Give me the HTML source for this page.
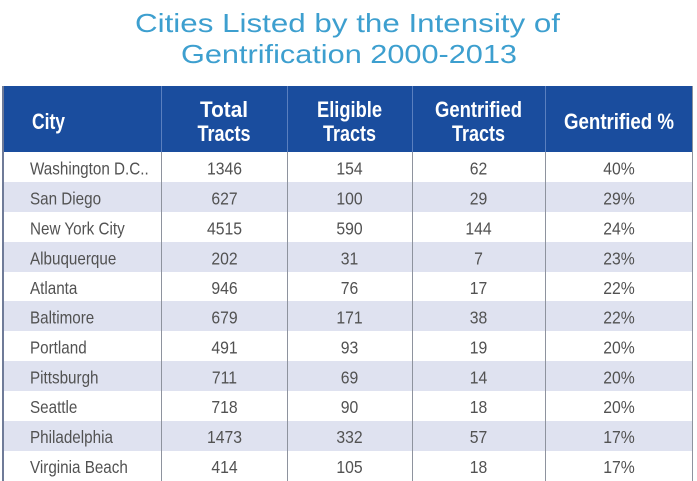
<!DOCTYPE html>
<html><head><meta charset="utf-8"><style>
html,body{margin:0;padding:0;background:#fff;}
svg{display:block;}
</style></head><body>
<svg width="697" height="481" viewBox="0 0 697 481" xmlns="http://www.w3.org/2000/svg" font-family="'Liberation Sans', sans-serif">
<rect width="697" height="481" fill="#fff"/>
<text x="347.5" y="32" font-size="26" fill="#3d9fcf" text-anchor="middle" textLength="425" lengthAdjust="spacingAndGlyphs">Cities Listed by the Intensity of</text>
<text x="349" y="63" font-size="26" fill="#3d9fcf" text-anchor="middle" textLength="336" lengthAdjust="spacingAndGlyphs">Gentrification 2000-2013</text>

<g>
<rect x="2" y="152" width="691" height="30" fill="#ffffff"/>
<rect x="2" y="182" width="691" height="30" fill="#dfe2f0"/>
<rect x="2" y="212" width="691" height="30" fill="#ffffff"/>
<rect x="2" y="242" width="691" height="30" fill="#dfe2f0"/>
<rect x="2" y="272" width="691" height="30" fill="#ffffff"/>
<rect x="2" y="301" width="691" height="30" fill="#dfe2f0"/>
<rect x="2" y="331" width="691" height="30" fill="#ffffff"/>
<rect x="2" y="361" width="691" height="30" fill="#dfe2f0"/>
<rect x="2" y="391" width="691" height="30" fill="#ffffff"/>
<rect x="2" y="421" width="691" height="30" fill="#dfe2f0"/>
<rect x="2" y="451" width="691" height="30" fill="#ffffff"/>
</g>

<rect x="2" y="86" width="691" height="66" fill="#1a4d9e"/>
<g stroke="#5a7fbf" stroke-width="1">
<line x1="161.5" y1="86" x2="161.5" y2="152"/>
<line x1="287.5" y1="86" x2="287.5" y2="152"/>
<line x1="412.5" y1="86" x2="412.5" y2="152"/>
<line x1="545.5" y1="86" x2="545.5" y2="152"/>
</g>
<g stroke="#8e939e" stroke-width="1">
<line x1="161.5" y1="152" x2="161.5" y2="481"/>
<line x1="287.5" y1="152" x2="287.5" y2="481"/>
<line x1="412.5" y1="152" x2="412.5" y2="481"/>
<line x1="545.5" y1="152" x2="545.5" y2="481"/>
</g>
<line x1="3" y1="86" x2="3" y2="481" stroke="#6f7b98" stroke-width="2"/>
<line x1="692.5" y1="86" x2="692.5" y2="481" stroke="#8e939e" stroke-width="1"/>

<g fill="#ffffff" font-size="22" font-weight="bold">
<text x="32" y="129" textLength="33" lengthAdjust="spacingAndGlyphs">City</text>
<text x="224" y="117" text-anchor="middle" textLength="48" lengthAdjust="spacingAndGlyphs">Total</text>
<text x="224" y="141" text-anchor="middle" textLength="53" lengthAdjust="spacingAndGlyphs">Tracts</text>
<text x="349.5" y="117" text-anchor="middle" textLength="65" lengthAdjust="spacingAndGlyphs">Eligible</text>
<text x="349.5" y="141" text-anchor="middle" textLength="53" lengthAdjust="spacingAndGlyphs">Tracts</text>
<text x="478.5" y="117" text-anchor="middle" textLength="87" lengthAdjust="spacingAndGlyphs">Gentrified</text>
<text x="478.5" y="141" text-anchor="middle" textLength="53" lengthAdjust="spacingAndGlyphs">Tracts</text>
<text x="619" y="129" text-anchor="middle" textLength="110" lengthAdjust="spacingAndGlyphs">Gentrified %</text>
</g>

<g fill="#525252" font-size="17.5" transform="scale(0.87,1)">
<text x="34.5" y="174.5">Washington D.C..</text>
<text x="34.5" y="204.5">San Diego</text>
<text x="34.5" y="234.5">New York City</text>
<text x="34.5" y="264.5">Albuquerque</text>
<text x="34.5" y="294">Atlanta</text>
<text x="34.5" y="323.5">Baltimore</text>
<text x="34.5" y="353.5">Portland</text>
<text x="34.5" y="383.5">Pittsburgh</text>
<text x="34.5" y="413">Seattle</text>
<text x="34.5" y="443">Philadelphia</text>
<text x="34.5" y="473">Virginia Beach</text>
</g>

<g fill="#525252" font-size="17.5" text-anchor="middle" transform="scale(0.9,1)">
<g>
<text x="249.4" y="174.5">1346</text>
<text x="249.4" y="204.5">627</text>
<text x="249.4" y="234.5">4515</text>
<text x="249.4" y="264.5">202</text>
<text x="249.4" y="294">946</text>
<text x="249.4" y="323.5">679</text>
<text x="249.4" y="353.5">491</text>
<text x="249.4" y="383.5">711</text>
<text x="249.4" y="413">718</text>
<text x="249.4" y="443">1473</text>
<text x="249.4" y="473">414</text>
</g>
<g>
<text x="388.3" y="174.5">154</text>
<text x="388.3" y="204.5">100</text>
<text x="388.3" y="234.5">590</text>
<text x="388.3" y="264.5">31</text>
<text x="388.3" y="294">76</text>
<text x="388.3" y="323.5">171</text>
<text x="388.3" y="353.5">93</text>
<text x="388.3" y="383.5">69</text>
<text x="388.3" y="413">90</text>
<text x="388.3" y="443">332</text>
<text x="388.3" y="473">105</text>
</g>
<g>
<text x="531.7" y="174.5">62</text>
<text x="531.7" y="204.5">29</text>
<text x="531.7" y="234.5">144</text>
<text x="531.7" y="264.5">7</text>
<text x="531.7" y="294">17</text>
<text x="531.7" y="323.5">38</text>
<text x="531.7" y="353.5">19</text>
<text x="531.7" y="383.5">14</text>
<text x="531.7" y="413">18</text>
<text x="531.7" y="443">57</text>
<text x="531.7" y="473">18</text>
</g>
<g>
<text x="687.8" y="174.5">40%</text>
<text x="687.8" y="204.5">29%</text>
<text x="687.8" y="234.5">24%</text>
<text x="687.8" y="264.5">23%</text>
<text x="687.8" y="294">22%</text>
<text x="687.8" y="323.5">22%</text>
<text x="687.8" y="353.5">20%</text>
<text x="687.8" y="383.5">20%</text>
<text x="687.8" y="413">20%</text>
<text x="687.8" y="443">17%</text>
<text x="687.8" y="473">17%</text>
</g>
</g>
</svg>
</body></html>
